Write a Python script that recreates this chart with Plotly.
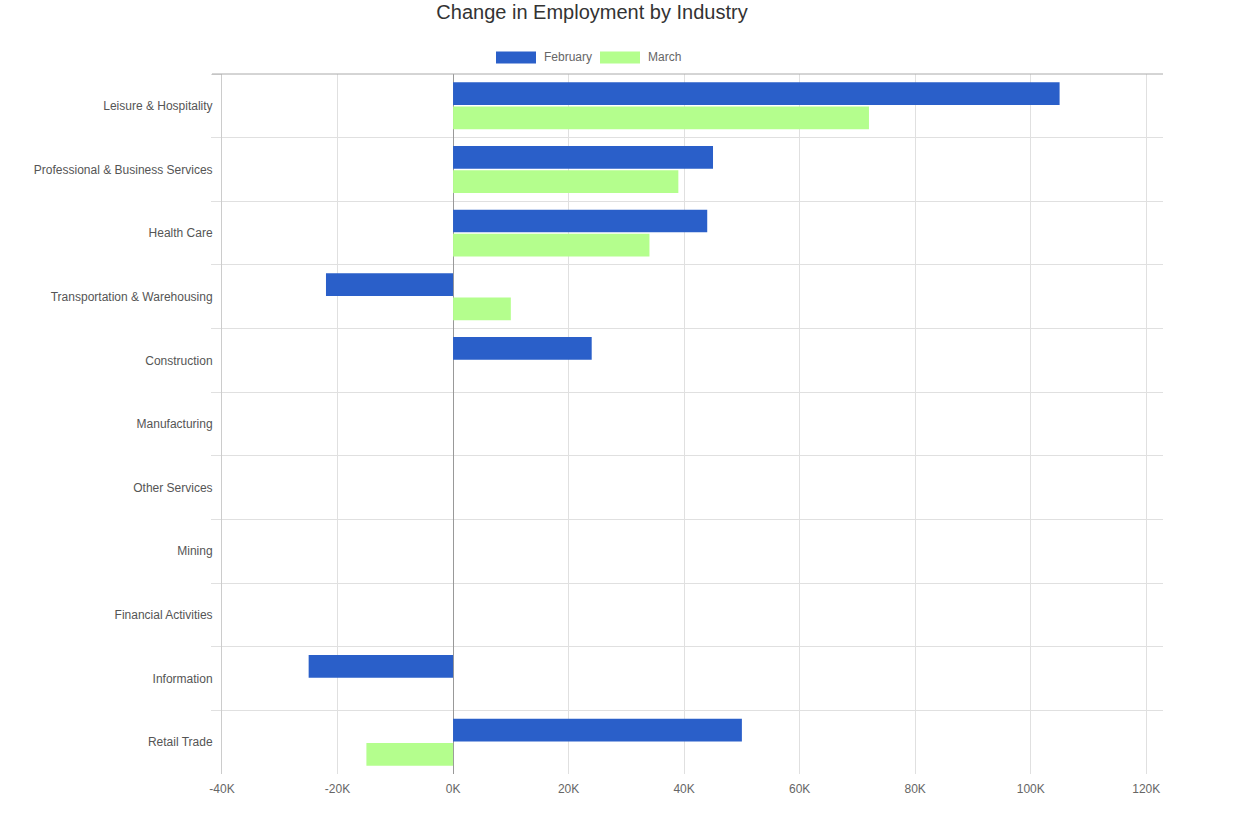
import plotly.graph_objects as go

industries = [
    "Leisure & Hospitality",
    "Professional & Business Services",
    "Health Care",
    "Transportation & Warehousing",
    "Construction",
    "Manufacturing",
    "Other Services",
    "Mining",
    "Financial Activities",
    "Information",
    "Retail Trade",
]
february = [105000, 45000, 44000, -22000, 24000, 0, 0, 0, 0, -25000, 50000]
march = [72000, 39000, 34000, 10000, 0, 0, 0, 0, 0, 0, -15000]

x_tickvals = [-40000, -20000, 0, 20000, 40000, 60000, 80000, 100000, 120000]
x_ticktext = ["-40K", "-20K", "0K", "20K", "40K", "60K", "80K", "100K", "120K"]

series_names = ["February", "March"]
colors = ["#2a5fc9", "#b4fe8d"]

W, H = 1243, 814
ML, MR, MT, MB = 222, 80, 74, 40
PW, PH = W - ML - MR, H - MT - MB

fig = go.Figure()
for name, vals, col in zip(series_names, [february, march], colors):
    fig.add_trace(go.Bar(
        y=industries, x=vals, name=name, orientation="h",
        marker=dict(color=col, line=dict(width=0)),
        showlegend=False,
    ))

def px_x(p):
    return (p - ML) / PW

def px_y(p):
    return 1 - (p - MT) / PH

shapes = [
    dict(type="line", xref="paper", yref="paper", x0=px_x(212), x1=1, y0=1, y1=1,
         line=dict(color="#aaaaaa", width=1)),
]
annotations = []
legend_items = [(496, 542), (600, 646)]
for (rx, tx), name, col in zip(legend_items, series_names, colors):
    shapes.append(dict(type="rect", xref="paper", yref="paper",
                       x0=px_x(rx), x1=px_x(rx + 40), y0=px_y(63.5), y1=px_y(51.5),
                       fillcolor=col, line=dict(width=0)))
    annotations.append(dict(xref="paper", yref="paper", x=px_x(tx), y=px_y(56.5),
                            text=name, showarrow=False, xanchor="left", yanchor="middle",
                            font=dict(size=12, color="#666666")))

fig.update_layout(
    width=W, height=H,
    margin=dict(l=ML, r=MR, t=MT, b=MB),
    paper_bgcolor="white", plot_bgcolor="white",
    font=dict(family="Arial, Liberation Sans, sans-serif", size=12, color="#555555"),
    title=dict(text="Change in Employment by Industry", x=592 / W, xanchor="center",
               y=1 - 12 / H, yanchor="middle", yref="container",
               font=dict(size=20, color="#333333")),
    barmode="group", bargap=0.24, bargroupgap=0.06,
    shapes=shapes, annotations=annotations,
)
fig.update_xaxes(
    range=[-40000, 122900], tickvals=x_tickvals, ticktext=x_ticktext,
    showgrid=True, gridcolor="#e0e0e0", gridwidth=1,
    zeroline=True, zerolinecolor="#999999", zerolinewidth=1,
    showline=False, ticks="", tickfont=dict(size=12, color="#666666"),
    ticklabelstandoff=6,
)
fig.update_yaxes(
    categoryorder="array", categoryarray=industries, autorange="reversed",
    tickson="boundaries", ticks="outside", ticklen=10, tickcolor="#e0e0e0",
    showgrid=True, gridcolor="#e0e0e0", gridwidth=1,
    showline=True, linecolor="#cccccc", linewidth=1,
    tickfont=dict(size=12, color="#555555"),
    ticklabelstandoff=6,
)

fig.write_html("out.html", config={"displayModeBar": False},
               post_script="document.body.style.margin='0';")
